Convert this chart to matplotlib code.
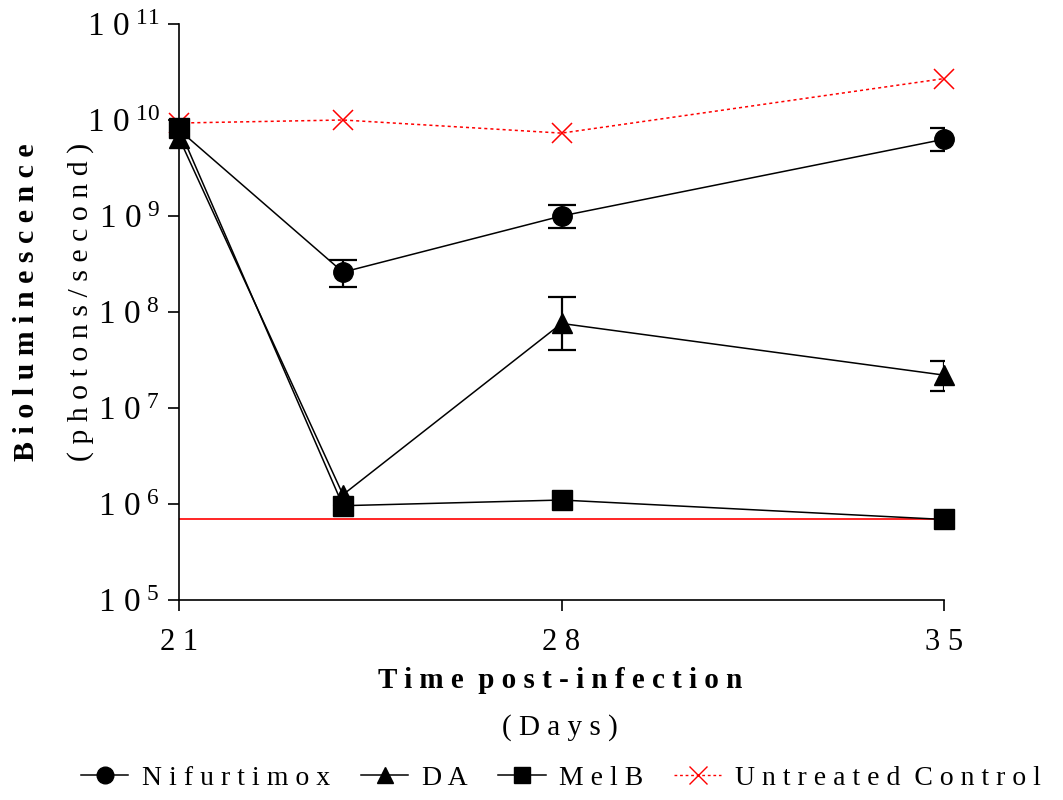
import numpy as np
import matplotlib
matplotlib.use("Agg")
import matplotlib.pyplot as plt
from matplotlib.lines import Line2D

# 字體設定
plt.rcParams['font.family'] = ['Liberation Serif', 'DejaVu Serif']
plt.rcParams['mathtext.fontset'] = 'custom'
plt.rcParams['mathtext.rm'] = 'Liberation Serif'
plt.rcParams['mathtext.it'] = 'Liberation Serif'

# 資料
days = [21, 24, 28, 35]
nifurtimox = [7.9e9, 2.6e8, 1.0e9, 6.3e9]
nifurtimox_lo = [0.8e8, 0.25e9, 1.6e9]
nifurtimox_hi = [0.9e8, 0.3e9, 2.0e9]
da = [6.5e9, 1.25e6, 7.6e7, 2.2e7]
da_err_days = [28, 35]
da_lo = [3.6e7, 0.7e7]
da_hi = [6.6e7, 0.9e7]
melb = [8.2e9, 9.6e5, 1.1e6, 6.9e5]
untreated = [9.3e9, 1.0e10, 7.3e9, 2.7e10]
detection_limit = 6.9e5

xticks = [21, 28, 35]
xtick_labels = ['2 1', '2 8', '3 5']
yexps = [5, 6, 7, 8, 9, 10, 11]

fig = plt.figure(figsize=(10.63, 8), dpi=100)
ax = fig.add_axes([0.1684, 0.25, 0.7197, 0.72])

ms = 14
lw = 1.1
ax.hlines(detection_limit, 21, 35, color='#ff0000', linewidth=1.2, zorder=2)

ax.plot(days, untreated, linestyle=(0, (2, 2)), color='#ff0000', linewidth=1.1,
        marker='x', markersize=15, markeredgewidth=1.1, clip_on=False, zorder=3)
ax.plot(days, nifurtimox, color='black', linewidth=lw, marker='o', markersize=ms,
        clip_on=False, zorder=4)
ax.errorbar(days[1:], nifurtimox[1:], yerr=[nifurtimox_lo, nifurtimox_hi], fmt='none',
            ecolor='black', capsize=10, capthick=1.6, elinewidth=1.6, zorder=4)
ax.plot(days, da, color='black', linewidth=lw, marker='^', markersize=ms + 1,
        clip_on=False, zorder=4)
ax.errorbar(da_err_days, da[2:], yerr=[da_lo, da_hi], fmt='none',
            ecolor='black', capsize=10, capthick=1.6, elinewidth=1.6, zorder=4)
ax.plot(days, melb, color='black', linewidth=lw, marker='s', markersize=ms,
        clip_on=False, zorder=4)

ax.set_yscale('log')
ax.set_ylim(1e5, 1e11)
ax.set_xlim(21, 35)
ax.set_xticks(xticks)
ax.set_xticklabels(xtick_labels, fontsize=22)
ax.set_yticks([10.0 ** e for e in yexps])
ax.set_yticklabels([r'$\mathregular{1\ 0^{\ %d}}$' % e for e in yexps], fontsize=24)
ax.yaxis.set_minor_locator(matplotlib.ticker.NullLocator())
ax.tick_params(axis='both', direction='out', length=8, width=1.2)
ax.tick_params(axis='x', pad=12)
ax.tick_params(axis='y', pad=6)
for side in ['top', 'right']:
    ax.spines[side].set_visible(False)
for side in ['left', 'bottom']:
    ax.spines[side].set_linewidth(1.2)

# 座標軸標題
fig.text(0.0245, 0.6225, 'B i o l u m i n e s c e n c e', rotation=90, ha='center',
         va='center', fontsize=21.5, fontweight='bold')
fig.text(0.076, 0.6225, '( p h o t o n s / s e c o n d )', rotation=90, ha='center',
         va='center', fontsize=21.5)
fig.text(0.527, 0.150, 'T i m e  p o s t - i n f e c t i o n', ha='center',
         va='center', fontsize=21, fontweight='bold')
fig.text(0.527, 0.090, '( D a y s )', ha='center', va='center', fontsize=21)

# 圖例
handles = [
    Line2D([], [], color='black', linewidth=lw, marker='o', markersize=12),
    Line2D([], [], color='black', linewidth=lw, marker='^', markersize=12),
    Line2D([], [], color='black', linewidth=lw, marker='s', markersize=12),
    Line2D([], [], color='#ff0000', linewidth=1.0, linestyle=(0, (2, 2)),
           marker='x', markersize=13, markeredgewidth=1.0),
]
labels = ['N i f u r t i m o x', 'D A', 'M e l B', 'U n t r e a t e d  C o n t r o l']
fig.legend(handles, labels, loc='center', bbox_to_anchor=(0.528, 0.027), ncol=4,
           frameon=False, fontsize=20, handlelength=1.7, handletextpad=0.5,
           columnspacing=1.1)

fig.savefig('out.png', dpi=100, facecolor='white')
